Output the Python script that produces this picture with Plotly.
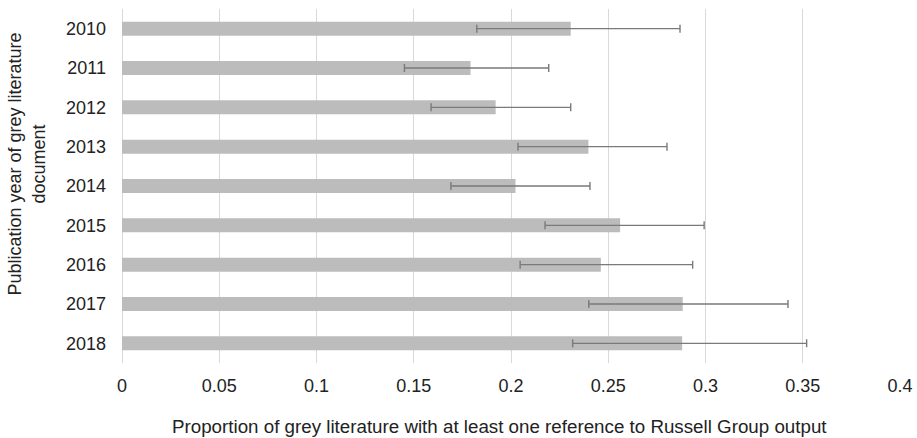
import plotly.graph_objects as go

years = ["2010", "2011", "2012", "2013", "2014", "2015", "2016", "2017", "2018"]
values = [0.2307, 0.1792, 0.1921, 0.2398, 0.2023, 0.2561, 0.2462, 0.2883, 0.2880]
err_low = [0.1824, 0.1452, 0.1589, 0.2036, 0.1691, 0.2175, 0.2047, 0.2400, 0.2317]
err_high = [0.2869, 0.2194, 0.2307, 0.2802, 0.2406, 0.2993, 0.2934, 0.3424, 0.3520]
x_title = "Proportion of grey literature with at least one reference to Russell Group output"
y_title = "Publication year of grey literature<br>document"

plus = [h - v for h, v in zip(err_high, values)]
minus = [v - l for v, l in zip(values, err_low)]

fig = go.Figure(go.Bar(
    x=values, y=years, orientation="h",
    marker=dict(color="#bcbcbc", line=dict(width=0)),
    width=0.355,
    error_x=dict(type="data", symmetric=False, array=plus, arrayminus=minus,
                 color="#7a7a7a", thickness=1.4, width=4),
))

font = "Liberation Sans, Arial, sans-serif"
txt = "#222222"
fig.update_layout(
    width=917, height=438,
    margin=dict(l=122, r=17, t=9, b=75),
    paper_bgcolor="white", plot_bgcolor="white",
    showlegend=False,
    font=dict(family=font, size=18, color=txt),
    xaxis=dict(
        range=[0, 0.4], dtick=0.05, tickformat="~g",
        showgrid=True, gridcolor="#d9d9d9", gridwidth=1,
        zeroline=True, zerolinecolor="#d9d9d9", zerolinewidth=1,
        showline=False, ticks="", ticklabelstandoff=10,
        tickfont=dict(size=18, color=txt),
        automargin=False,
        fixedrange=True,
    ),
    yaxis=dict(
        type="category", autorange="reversed",
        showgrid=False, showline=False, ticks="", ticklabelstandoff=15,
        tickfont=dict(size=18, color=txt),
        automargin=False,
        fixedrange=True,
    ),
    annotations=[
        dict(text=x_title, xref="paper", yref="paper", x=0.4846, y=-0.178,
             xanchor="center", yanchor="middle", showarrow=False,
             font=dict(size=18.75, color=txt)),
        dict(text=y_title, xref="paper", yref="paper", x=-0.1227, y=0.562,
             xanchor="center", yanchor="middle", showarrow=False, textangle=-90,
             font=dict(size=18, color=txt)),
    ],
)

fig.write_html("out.html", config={"displayModeBar": False},
               post_script="document.body.style.margin='0';document.body.style.overflow='hidden';")
